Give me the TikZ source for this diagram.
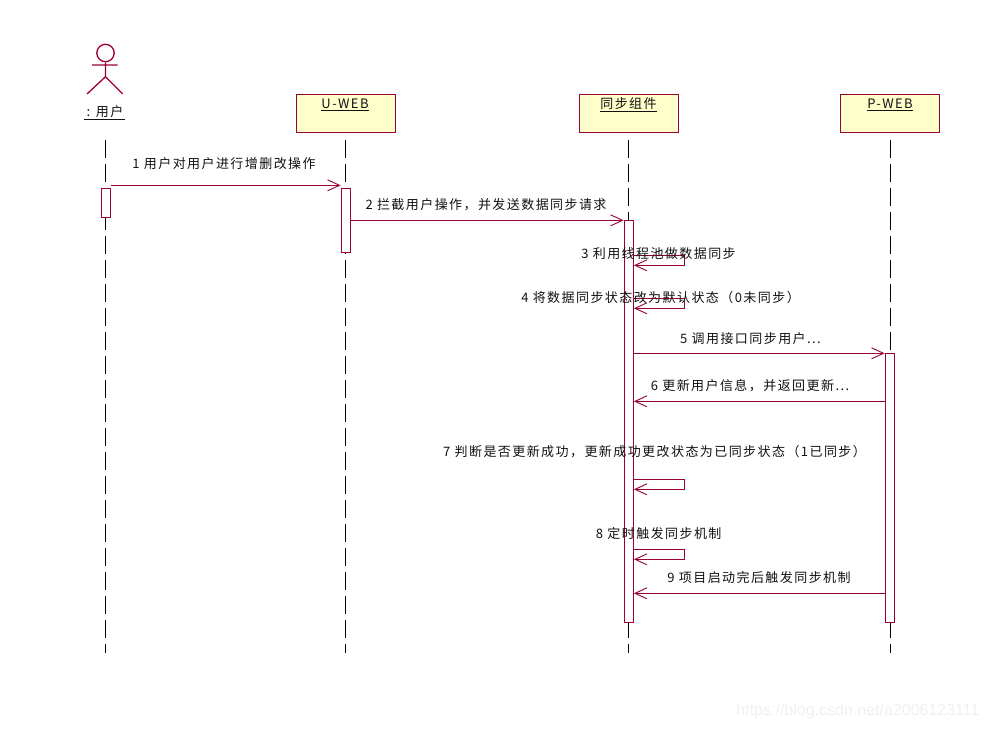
\documentclass[tikz,border=0pt]{standalone}
\usepackage{fontspec}
\usetikzlibrary{arrows.meta,calc}
\setmainfont{Noto Sans CJK SC}
\newfontfamily\lblfont[LetterSpace=11]{Noto Sans CJK SC}
\newfontfamily\markfont{Liberation Sans}
\definecolor{umlred}{HTML}{990033}
\definecolor{umlfill}{HTML}{FFFFCC}
\definecolor{umltext}{HTML}{111111}
\tikzset{
  objbox/.style={draw=umlred,fill=umlfill,line width=1.3pt,minimum width=99pt,minimum height=38pt,inner sep=0pt},
  objname/.style={text=umltext,font=\lblfont\fontsize{13}{15}\selectfont,inner sep=0pt},
  lifeln/.style={draw=black,line width=1.3pt,dash pattern=on 18pt off 6pt},
  activ/.style={draw=umlred,fill=white,line width=1.3pt,minimum width=9pt,inner sep=0pt},
  msg/.style={draw=umlred,line width=1.3pt,-{Straight Barb[length=12pt,width=11pt,line width=.9pt]}},
  msgtext/.style={text=umltext,font=\lblfont\fontsize{13}{15}\selectfont,inner sep=0pt},
  actorln/.style={draw=umlred,line width=1.3pt}
}
\begin{document}
\begin{tikzpicture}[x=1pt,y=-1pt]
\useasboundingbox (0,0) rectangle (987,729);
% object boxes
\node[objbox] (web) at (345.8,113.3) {};
\node[objbox] (syn) at (628.8,113.3) {};
\node[objbox] (pw) at (889.8,113.3) {};
% actor
\node[draw=umlred,line width=1.3pt,circle,minimum size=17.4pt,inner sep=0pt] (head) at (105.5,53) {};
\coordinate (neck) at (105.5,65);
\coordinate (armL) at (92,65);
\coordinate (armR) at (117.7,65);
\coordinate (hip) at (105.5,76.7);
\coordinate (legL) at (87,94);
\coordinate (legR) at (122.7,94);
\draw[actorln] (head.south) -- (hip) (armL) -- (armR) (legL) -- (hip) -- (legR);
% lifeline ends
\coordinate (uT) at (105.5,140); \coordinate (uB) at (105.5,653);
\coordinate (wT) at (345.5,140);   \coordinate (wB) at (345.5,653);
\coordinate (sT) at (628.5,140);   \coordinate (sB) at (628.5,653);
\coordinate (pT) at (890.5,140);   \coordinate (pB) at (890.5,653);
\draw[lifeln] (uT) -- (uB);
\draw[lifeln] (wT) -- (wB);
\draw[lifeln] (sT) -- (sB);
\draw[lifeln] (pT) -- (pB);
% activations
\node[activ,minimum height=29pt] (au) at (105.8,202.8) {};
\node[activ,minimum height=64pt] (aw) at (345.8,220.3) {};
\node[activ,minimum height=402pt] (as) at (628.8,421.3) {};
\node[activ,minimum height=269pt] (ap) at (889.8,487.8) {};
% message rows
\coordinate (m1) at (0,185.3);
\coordinate (m2) at (0,220.3);
\coordinate (m3a) at (684.3,255.3); \coordinate (m3b) at (684.3,265.3);
\coordinate (m4a) at (684.3,298.3); \coordinate (m4b) at (684.3,308.3);
\coordinate (m5) at (0,353.3);
\coordinate (m6) at (0,401.3);
\coordinate (m7a) at (684.3,479.3); \coordinate (m7b) at (684.3,489.3);
\coordinate (m8a) at (684.3,549.3); \coordinate (m8b) at (684.3,559.3);
\coordinate (m9) at (0,593.3);
\draw[msg] (au.east |- m1) -- (aw.west |- m1);
\draw[msg] (aw.east |- m2) -- (as.west |- m2);
\draw[msg] (as.east |- m3a) -- (m3a) -- (m3b) -- (as.east |- m3b);
\draw[msg] (as.east |- m4a) -- (m4a) -- (m4b) -- (as.east |- m4b);
\draw[msg] (as.east |- m5) -- (ap.west |- m5);
\draw[msg] (ap.west |- m6) -- (as.east |- m6);
\draw[msg] (as.east |- m7a) -- (m7a) -- (m7b) -- (as.east |- m7b);
\draw[msg] (as.east |- m8a) -- (m8a) -- (m8b) -- (as.east |- m8b);
\draw[msg] (ap.west |- m9) -- (as.east |- m9);
% names
\node[objname] (nu) at (104.5,112.5) {\underline{\kern3pt: 用户\kern2pt}};
\node[objname] (nw) at (345,105) {\underline{U-WEB}};
\node[objname] (ns) at (628.5,105) {\underline{同步组件}};
\node[objname] (np) at (890,105) {\underline{P-WEB}};
% message texts
\node[msgtext] (t1) at (224,164) {1 用户对用户进行增删改操作};
\node[msgtext] (t2) at (486,204.5) {2 拦截用户操作，并发送数据同步请求};
\node[msgtext] (t3) at (658.5,253.5) {3 利用线程池做数据同步};
\node[msgtext] (t4) at (660.5,297.5) {4 将数据同步状态改为默认状态（0未同步）};
\node[msgtext] (t5) at (750.5,338.5) {5 调用接口同步用户...};
\node[msgtext] (t6) at (750,386) {6 更新用户信息，并返回更新...};
\node[msgtext] (t7) at (654.5,452) {7 判断是否更新成功，更新成功更改状态为已同步状态（1已同步）};
\node[msgtext] (t8) at (658.7,534) {8 定时触发同步机制};
\node[msgtext] (t9) at (759,578) {9 项目启动完后触发同步机制};
\node[text=black!6,font=\markfont\fontsize{16}{18}\selectfont,inner sep=0pt] (wm) at (858,711) {https://blog.csdn.net/a2006123111};
\end{tikzpicture}
\end{document}
